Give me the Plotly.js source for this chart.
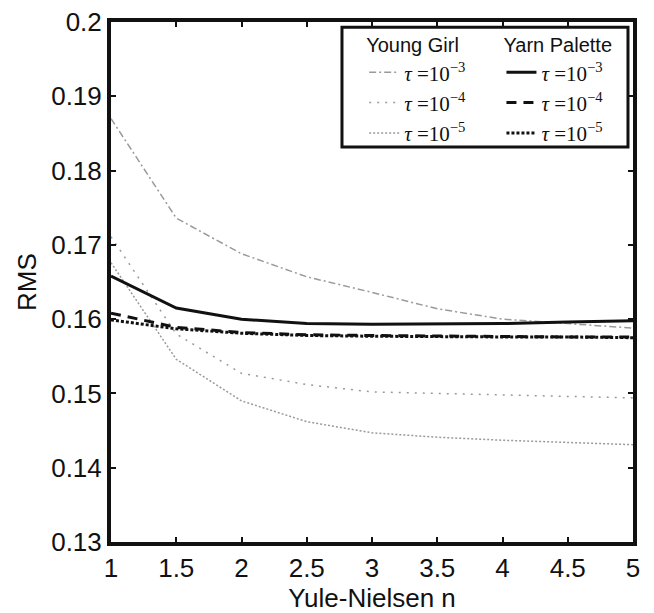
<!DOCTYPE html>
<html>
<head>
<meta charset="utf-8">
<script src="https://cdn.plot.ly/plotly-3.0.1.min.js"></script>
<style>
  html, body { margin: 0; padding: 0; background: #fff; }
  #chart { width: 654px; height: 613px; }
</style>
</head>
<body>
<div id="chart"></div>
<script>
// Yule-Nielsen n values
const nValues = [1, 1.5, 2, 2.5, 3, 3.5, 4, 4.5, 5];

// Young Girl RMS
const youngGirlTau3 = [0.1870, 0.1736, 0.1688, 0.1657, 0.1636, 0.1614, 0.1600, 0.1594, 0.1588];
const youngGirlTau4 = [0.1711, 0.1580, 0.1527, 0.1512, 0.1502, 0.1500, 0.1497, 0.1495, 0.1494];
const youngGirlTau5 = [0.1676, 0.1546, 0.1490, 0.1462, 0.1447, 0.1441, 0.1437, 0.1434, 0.1431];

// Yarn Palette RMS
const yarnTau3 = [0.1658, 0.1615, 0.1600, 0.1594, 0.1593, 0.1593, 0.1594, 0.1596, 0.1598];
const yarnTau4 = [0.1608, 0.1589, 0.1582, 0.1579, 0.1578, 0.1577, 0.1577, 0.1576, 0.1576];
const yarnTau5 = [0.1599, 0.1587, 0.1581, 0.1578, 0.1577, 0.1576, 0.1576, 0.1576, 0.1575];

const legendLabels = ['<i>τ</i> =10<sup>−3</sup>', '<i>τ</i> =10<sup>−4</sup>', '<i>τ</i> =10<sup>−5</sup>'];
const groupTitles = ['Young Girl', 'Yarn Palette'];

const xTickVals = [1, 1.5, 2, 2.5, 3, 3.5, 4, 4.5, 5];
const xTickText = ['1', '1.5', '2', '2.5', '3', '3.5', '4', '4.5', '5'];
const yTickVals = [0.13, 0.14, 0.15, 0.16, 0.17, 0.18, 0.19, 0.2];
const yTickText = ['0.13', '0.14', '0.15', '0.16', '0.17', '0.18', '0.19', '0.2'];

const gray = '#9a9a9a';
const sans = 'Liberation Sans, Arial, sans-serif';
const serif = 'Liberation Serif, Times New Roman, serif';

const traces = [
  {x: nValues, y: youngGirlTau3, name: legendLabels[0], legend: 'legend',
   line: {color: gray, width: 1.5, dash: '7px,3px,2px,3px'}},
  {x: nValues, y: youngGirlTau4, name: legendLabels[1], legend: 'legend',
   line: {color: gray, width: 1.5, dash: '2px,6px'}},
  {x: nValues, y: youngGirlTau5, name: legendLabels[2], legend: 'legend',
   line: {color: gray, width: 1.5, dash: '2px,2px'}},
  {x: nValues, y: yarnTau3, name: legendLabels[0], legend: 'legend2',
   line: {color: '#111', width: 3, dash: 'solid'}},
  {x: nValues, y: yarnTau4, name: legendLabels[1], legend: 'legend2',
   line: {color: '#111', width: 3, dash: '10px,7px'}},
  {x: nValues, y: yarnTau5, name: legendLabels[2], legend: 'legend2',
   line: {color: '#111', width: 3, dash: '3px,2px'}}
].map(t => Object.assign({type: 'scatter', mode: 'lines', showlegend: true}, t));

const legendCommon = {
  bgcolor: 'rgba(0,0,0,0)',
  borderwidth: 0,
  font: {family: serif, size: 21, color: '#111'},
  itemwidth: 30,
  tracegroupgap: 0,
  yanchor: 'top',
  xanchor: 'left'
};

const layout = {
  width: 654,
  height: 613,
  margin: {l: 111, r: 21, t: 22, b: 71},
  paper_bgcolor: '#fff',
  plot_bgcolor: '#fff',
  font: {family: sans, size: 26, color: '#111'},
  xaxis: {
    range: [1, 5],
    tickvals: xTickVals,
    ticktext: xTickText,
    ticks: 'inside',
    ticklen: 5,
    tickwidth: 2,
    tickcolor: '#111',
    showline: true,
    linewidth: 4,
    linecolor: '#111',
    mirror: 'ticks',
    showgrid: false,
    zeroline: false,
    automargin: false,
    tickfont: {family: sans, size: 26, color: '#111'},
    title: {text: 'Yule-Nielsen n', standoff: 4,
            font: {family: sans, size: 26, color: '#111'}}
  },
  yaxis: {
    range: [0.13, 0.2],
    tickvals: yTickVals,
    ticktext: yTickText,
    ticks: 'inside',
    ticklen: 5,
    tickwidth: 2,
    tickcolor: '#111',
    showline: true,
    linewidth: 4,
    linecolor: '#111',
    mirror: 'ticks',
    showgrid: false,
    zeroline: false,
    automargin: false,
    tickfont: {family: sans, size: 26, color: '#111'},
    title: {text: 'RMS', standoff: 8,
            font: {family: sans, size: 26, color: '#111'}}
  },
  legend: Object.assign({}, legendCommon, {
    x: 0.485, y: 0.992,
    title: {text: groupTitles[0], side: 'top',
            font: {family: sans, size: 20, color: '#111'}}
  }),
  legend2: Object.assign({}, legendCommon, {
    x: 0.748, y: 0.992,
    title: {text: groupTitles[1], side: 'top',
            font: {family: sans, size: 20, color: '#111'}}
  }),
  shapes: [{
    type: 'rect', xref: 'paper', yref: 'paper',
    x0: 0.4425, x1: 0.9904, y0: 0.7596, y1: 0.99,
    line: {color: '#111', width: 3}, fillcolor: 'rgba(0,0,0,0)'
  }],
  showlegend: true
};

Plotly.newPlot('chart', traces, layout, {displayModeBar: false, staticPlot: true});
</script>
</body>
</html>
